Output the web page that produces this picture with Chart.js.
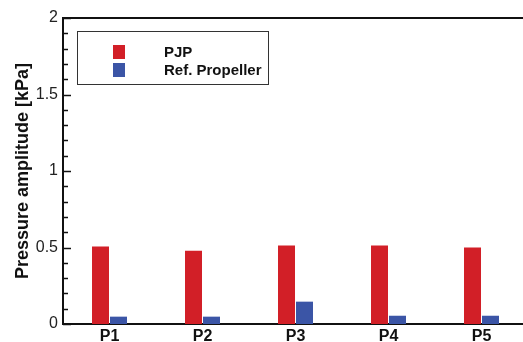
<!DOCTYPE html>
<html>
<head>
<meta charset="utf-8">
<script src="https://cdn.jsdelivr.net/npm/chart.js@4.4.0/dist/chart.umd.min.js"></script>
<style>
  html, body { margin: 0; padding: 0; background: #fff; overflow: hidden; }
  canvas { display: block; }
</style>
</head>
<body>
<canvas id="chart" width="530" height="342"></canvas>
<script>
// Dados
const categories = ['P1', 'P2', 'P3', 'P4', 'P5'];
const pjpValues = [0.507, 0.479, 0.513, 0.513, 0.500];
const refPropellerValues = [0.048, 0.048, 0.146, 0.054, 0.054];
const yTickValues = [0, 0.5, 1, 1.5, 2];

const FONT = '"Liberation Sans", Arial, sans-serif';
const AXIS_COLOR = '#111';

// Ticks internos (maiores a cada 0.5, menores a cada 0.1) + borda superior
const frameTicks = {
    id: 'frameTicks',
    afterDraw(chart) {
        const { ctx, chartArea, scales } = chart;
        const y = scales.y;
        ctx.save();
        ctx.strokeStyle = AXIS_COLOR;
        ctx.lineWidth = 1.5;
        for (let i = 0; i <= 20; i++) {
            const v = i / 10;
            const py = Math.round(y.getPixelForValue(v)) + 0.5;
            const len = i % 5 === 0 ? 8 : 5;
            ctx.beginPath();
            ctx.moveTo(chartArea.left, py);
            ctx.lineTo(chartArea.left + len, py);
            ctx.stroke();
        }
        ctx.lineWidth = 2;
        ctx.beginPath();
        ctx.moveTo(chartArea.left - 1, chartArea.top);
        ctx.lineTo(chartArea.right, chartArea.top);
        ctx.stroke();
        ctx.restore();
    }
};

// Legenda com moldura, desenhada a partir dos datasets
const boxedLegend = {
    id: 'boxedLegend',
    afterDraw(chart) {
        const { ctx } = chart;
        ctx.save();
        ctx.strokeStyle = '#333';
        ctx.lineWidth = 1;
        ctx.strokeRect(77.5, 31.5, 191, 53);
        ctx.font = 'bold 15px ' + FONT;
        ctx.textBaseline = 'middle';
        chart.data.datasets.forEach((ds, i) => {
            const cy = 52 + i * 18;
            ctx.fillStyle = ds.backgroundColor;
            ctx.fillRect(113, cy - 7, 12, 14);
            ctx.fillStyle = '#111';
            ctx.fillText(ds.label, 164, cy + 1);
        });
        ctx.restore();
    }
};

new Chart(document.getElementById('chart').getContext('2d'), {
    type: 'bar',
    data: {
        labels: categories,
        datasets: [{
            label: 'PJP',
            data: pjpValues,
            backgroundColor: '#D21F27',
            borderWidth: 0
        }, {
            label: 'Ref. Propeller',
            data: refPropellerValues,
            backgroundColor: '#3B55A6',
            borderWidth: 0
        }]
    },
    options: {
        responsive: false,
        animation: false,
        layout: { padding: { left: 0, right: 2, top: 18, bottom: 0 } },
        plugins: {
            legend: { display: false },
            tooltip: { enabled: false }
        },
        datasets: {
            bar: { categoryPercentage: 0.387, barPercentage: 0.944 }
        },
        scales: {
            x: {
                grid: { display: false, drawTicks: false },
                border: { display: true, color: AXIS_COLOR, width: 2 },
                ticks: {
                    padding: 3,
                    color: '#111',
                    font: { family: FONT, size: 16, weight: 'bold' }
                },
                afterFit(scale) { scale.height = 18; }
            },
            y: {
                min: 0,
                max: 2,
                afterBuildTicks(scale) {
                    scale.ticks = yTickValues.map(v => ({ value: v }));
                },
                grid: { display: false, drawTicks: false },
                border: { display: true, color: AXIS_COLOR, width: 2 },
                ticks: {
                    padding: 5,
                    color: '#222',
                    font: { family: FONT, size: 16 },
                    callback: v => String(v)
                },
                title: {
                    display: true,
                    text: 'Pressure amplitude [kPa]',
                    color: '#111',
                    font: { family: FONT, size: 18, weight: 'bold' },
                    padding: { top: 12, bottom: 0 }
                },
                afterFit(scale) { scale.width = 63; }
            }
        }
    },
    plugins: [frameTicks, boxedLegend]
});
</script>
</body>
</html>
